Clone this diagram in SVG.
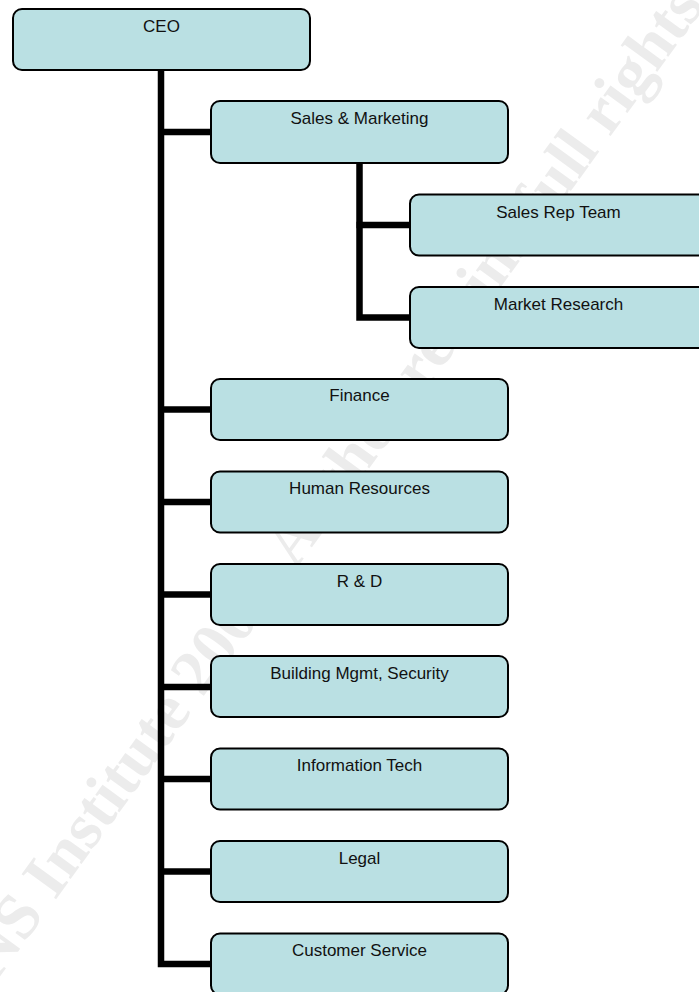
<svg xmlns="http://www.w3.org/2000/svg" width="699" height="992" viewBox="0 0 699 992">
<style>
.box{fill:#bae0e3;stroke:#000;stroke-width:2}
.lbl{font-family:"Liberation Sans",Arial,sans-serif;font-size:17px;fill:#111;text-anchor:middle}
.conn{fill:none;stroke:#000;stroke-width:6.5;stroke-linejoin:miter;stroke-linecap:butt}
.wm{font-family:"Liberation Serif","Times New Roman",serif;font-weight:bold;font-size:65px;fill:#ececec;text-anchor:middle}
</style>
<rect width="699" height="992" fill="#fff"/>
<text class="wm" transform="translate(312,547) rotate(-54)">© SANS Institute 2004, Author retains full rights.</text>
<g id="connectors">
<path class="conn" d="M161 70 V964 H211"/>
<path class="conn" d="M158 132 H211"/>
<path class="conn" d="M158 409.5 H211"/>
<path class="conn" d="M158 502 H211"/>
<path class="conn" d="M158 594.5 H211"/>
<path class="conn" d="M158 687 H211"/>
<path class="conn" d="M158 779 H211"/>
<path class="conn" d="M158 871.5 H211"/>
<path class="conn" d="M359.5 164 V317.5 H410"/>
<path class="conn" d="M356.5 225 H410"/>
</g>
<g id="ceo"><rect class="box" x="13" y="9" width="297" height="61" rx="9"/><text class="lbl" x="161.5" y="31.5">CEO</text></g>
<g id="sales-marketing"><rect class="box" x="211" y="101" width="297" height="62" rx="9"/><text class="lbl" x="359.5" y="123.5">Sales &amp; Marketing</text></g>
<g id="sales-rep-team"><rect class="box" x="410" y="194.5" width="297" height="61" rx="9"/><text class="lbl" x="558.5" y="217.5">Sales Rep Team</text></g>
<g id="market-research"><rect class="box" x="410" y="287" width="297" height="61" rx="9"/><text class="lbl" x="558.5" y="310">Market Research</text></g>
<g id="finance"><rect class="box" x="211" y="379" width="297" height="61" rx="9"/><text class="lbl" x="359.5" y="401">Finance</text></g>
<g id="human-resources"><rect class="box" x="211" y="471.5" width="297" height="61" rx="9"/><text class="lbl" x="359.5" y="493.5">Human Resources</text></g>
<g id="r-and-d"><rect class="box" x="211" y="564" width="297" height="61" rx="9"/><text class="lbl" x="359.5" y="586.5">R &amp; D</text></g>
<g id="building-mgmt"><rect class="box" x="211" y="656" width="297" height="61" rx="9"/><text class="lbl" x="359.5" y="678.5">Building Mgmt, Security</text></g>
<g id="information-tech"><rect class="box" x="211" y="748.5" width="297" height="61" rx="9"/><text class="lbl" x="359.5" y="771">Information Tech</text></g>
<g id="legal"><rect class="box" x="211" y="841" width="297" height="61" rx="9"/><text class="lbl" x="359.5" y="863.5">Legal</text></g>
<g id="customer-service"><rect class="box" x="211" y="933.5" width="297" height="61" rx="9"/><text class="lbl" x="359.5" y="956">Customer Service</text></g>
</svg>
